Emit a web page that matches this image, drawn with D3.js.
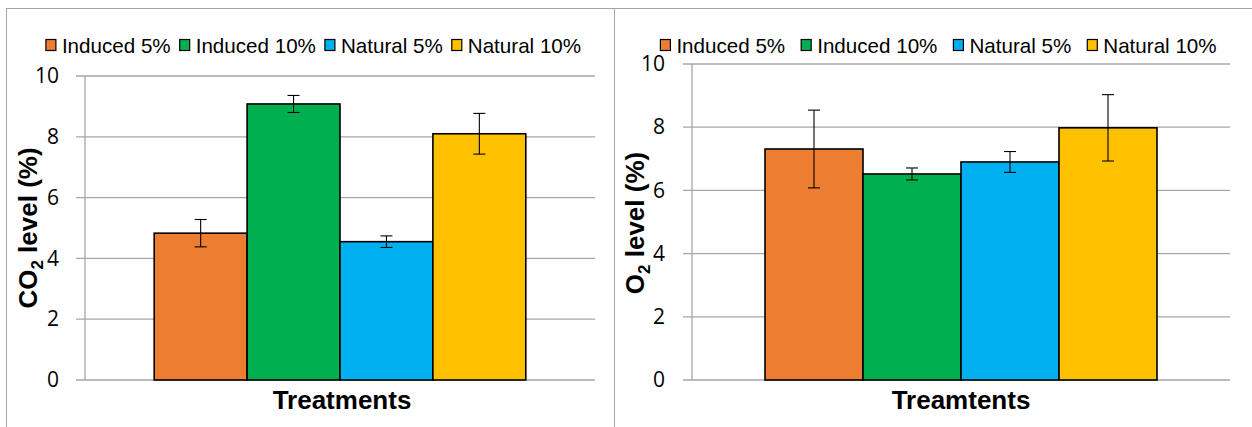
<!DOCTYPE html>
<html><head><meta charset="utf-8">
<script src="https://cdn.jsdelivr.net/npm/d3@7"></script>
<style>html,body{margin:0;padding:0;background:#fff;}svg{display:block;}</style>
</head><body>
<svg id="c" width="1252" height="427"></svg>
<script>
const series = ["Induced 5%", "Induced 10%", "Natural 5%", "Natural 10%"];
const colors = ["#ED7D31", "#00B050", "#00B0F0", "#FFC000"];
const category = ["Treatments"];
const co2Values = [4.83, 9.08, 4.55, 8.10];
const co2Errors = [0.45, 0.28, 0.19, 0.67];
const o2Values = [7.31, 6.52, 6.90, 7.98];
const o2Errors = [1.23, 0.19, 0.33, 1.05];
const yTicks = [0, 2, 4, 6, 8, 10];

const svg = d3.select("#c");
svg.append("rect").attr("width",1252).attr("height",427).attr("fill","#fff");
// panel borders
const bc = "#a6a6a6";
svg.append("line").attr("x1",6).attr("x2",1252).attr("y1",8.5).attr("y2",8.5).attr("stroke",bc);
svg.append("line").attr("x1",6.5).attr("x2",6.5).attr("y1",8).attr("y2",427).attr("stroke",bc);
svg.append("line").attr("x1",614.5).attr("x2",614.5).attr("y1",8).attr("y2",427).attr("stroke",bc);

function panel(cfg){
  const g = svg.append("g");
  const y = d3.scaleLinear().domain([0,10]).range([cfg.y0, cfg.y10]);
  const x0 = d3.scaleBand().domain(category).range([cfg.xl, cfg.xr]).padding(0.157);
  const x1 = d3.scaleBand().domain(series).range([0, x0.bandwidth()]).padding(0);
  // gridlines
  g.append("g").selectAll("line").data(yTicks).join("line")
    .attr("x1", cfg.xl - 9).attr("x2", cfg.xr)
    .attr("y1", d => y(d)).attr("y2", d => y(d))
    .attr("stroke", "#a6a6a6").attr("stroke-width", 1.3);
  // axis
  const ax = g.append("g").attr("transform", `translate(${cfg.xl},0)`)
    .call(d3.axisLeft(y).tickValues(yTicks).tickSize(0).tickPadding(cfg.labelPad).tickFormat(d3.format("d")));
  ax.select(".domain").remove();
  ax.selectAll("text").attr("font-family","'Open Sans', sans-serif").attr("font-size","21px").attr("fill","#000");
  g.append("line").attr("x1", cfg.xl).attr("x2", cfg.xl).attr("y1", y(10)).attr("y2", y(0))
    .attr("stroke", "#a6a6a6").attr("stroke-width", 1.3);
  // bars
  const bx = x0(category[0]);
  g.append("g").selectAll("rect").data(cfg.values).join("rect")
    .attr("x", (d,i) => bx + x1(series[i]))
    .attr("width", x1.bandwidth())
    .attr("y", d => y(d)).attr("height", d => y(0) - y(d))
    .attr("fill", (d,i) => colors[i]).attr("stroke", "#000").attr("stroke-width", 1.6);
  // error bars
  const eg = g.append("g").attr("stroke","#000").attr("stroke-width",1.1);
  cfg.values.forEach((v,i) => {
    const cx = bx + x1(series[i]) + x1.bandwidth()/2;
    const e = cfg.errors[i];
    eg.append("line").attr("x1",cx).attr("x2",cx).attr("y1",y(v+e)).attr("y2",y(v-e));
    eg.append("line").attr("x1",cx-6).attr("x2",cx+6).attr("y1",y(v+e)).attr("y2",y(v+e));
    eg.append("line").attr("x1",cx-6).attr("x2",cx+6).attr("y1",y(v-e)).attr("y2",y(v-e));
  });
  // x title
  g.append("text").attr("x", cfg.xTitleX).attr("y", 409).attr("text-anchor","middle")
    .attr("font-family","'Liberation Sans', Arial, sans-serif").attr("font-weight","bold").attr("font-size","26px")
    .text(cfg.xTitle);
  // y title
  const yt = g.append("text").attr("transform", `translate(${cfg.yTitleX},${cfg.yTitleY}) rotate(-90)`)
    .attr("text-anchor","middle")
    .attr("font-family","'Liberation Sans', Arial, sans-serif").attr("font-weight","bold").attr("font-size","26px");
  yt.append("tspan").text(cfg.yTitle[0]);
  yt.append("tspan").attr("font-size","17px").attr("dy", 6).text("2");
  yt.append("tspan").attr("dy", -6).text(cfg.yTitle[1]);
  // legend
  const lg = g.append("g");
  const items = series.map((s,i) => {
    const it = lg.append("g");
    it.append("rect").attr("width",10).attr("height",11).attr("y",39.5)
      .attr("fill",colors[i]).attr("stroke","#000").attr("stroke-width",1.2);
    const t = it.append("text").attr("x",16).attr("y",52.5)
      .attr("font-family","'Liberation Sans', Arial, sans-serif").attr("font-size","20.6px").text(s);
    return {it, w: 16 + t.node().getComputedTextLength()};
  });
  const total = d3.sum(items, d => d.w) + cfg.legendGap*(items.length-1);
  let cx = cfg.legendCenter - total/2;
  items.forEach(d => { d.it.attr("transform", `translate(${cx},0)`); cx += d.w + cfg.legendGap; });
}

panel({xl:85, xr:595, y0:380, y10:76, labelPad:26, values:co2Values, errors:co2Errors,
  xTitle:"Treatments", xTitleX:342, yTitle:["CO"," level (%)"], yTitleX:37, yTitleY:228,
  legendGap:9, legendCenter:313.5});
panel({xl:692, xr:1230, y0:380, y10:64, labelPad:27, values:o2Values, errors:o2Errors,
  xTitle:"Treamtents", xTitleX:961, yTitle:["O"," level (%)"], yTitleX:644, yTitleY:223,
  legendGap:16, legendCenter:938.5});
</script>
</body></html>
